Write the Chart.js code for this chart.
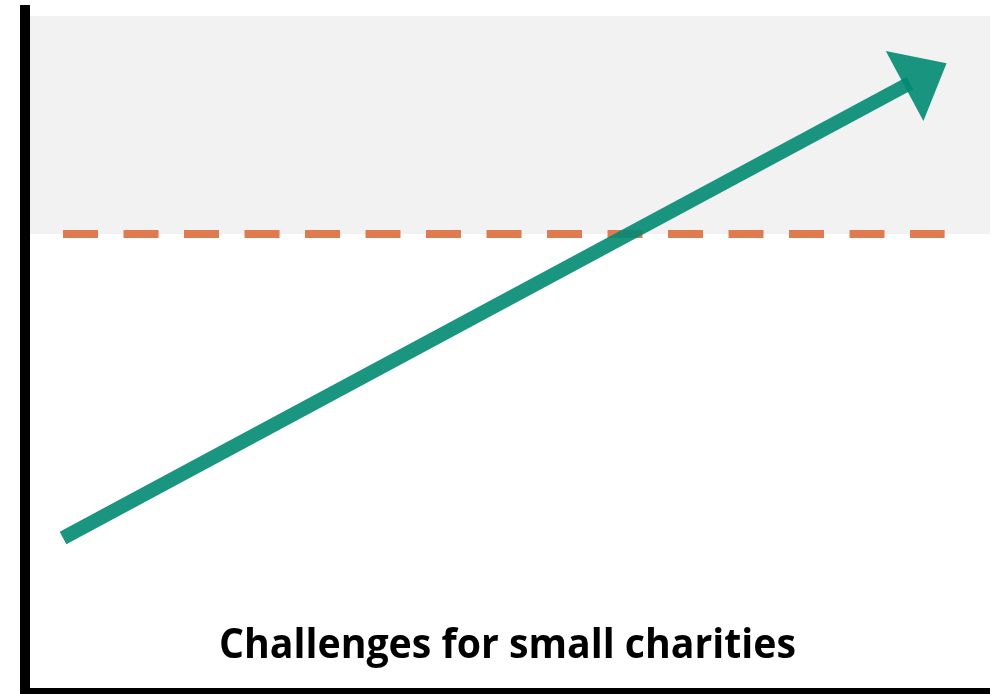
<!DOCTYPE html>
<html>
<head>
<meta charset="utf-8">
<script src="https://cdn.jsdelivr.net/npm/chart.js@4"></script>
<style>
  html, body { margin: 0; padding: 0; background: #fff; overflow: hidden; }
  #wrap { width: 1002px; height: 694px; position: relative; }
</style>
</head>
<body>
<div id="wrap"><canvas id="chart"></canvas></div>
<script>
// values in chart units (0-100 on both axes)
const shadeX = [0.5, 100];
const shadeTop = [98.4, 98.4];
const threshold = 66.6;
const thresholdX = [3.94, 95.3];
const trendX = [3.94, 91.7];
const trendY = [22.3, 88.6];
const headX = [89.2, 95.5, 93.1];
const headY = [93.3, 91.5, 83.1];
const yAxisX = [0, 0];
const yAxisY = [-0.5, 100];
const xAxisX = [-0.5, 100];
const xAxisY = [0, 0];
const caption = ["Challenges for small charities"];
const captionAt = [50, 4.8];

const pts = (xs, ys) => xs.map((x, i) => ({ x: x, y: Array.isArray(ys) ? ys[i] : ys }));

const green = "rgba(0,138,114,0.9)";

const captionPlugin = {
  id: "caption",
  afterDatasetsDraw(chart) {
    const { ctx, scales } = chart;
    const px = scales.x.getPixelForValue(captionAt[0]);
    const py = scales.y.getPixelForValue(captionAt[1]);
    ctx.save();
    ctx.font = "bold 41px 'Open Sans'";
    ctx.fillStyle = "#000";
    ctx.textAlign = "center";
    ctx.textBaseline = "alphabetic";
    const w = ctx.measureText(caption[0]).width;
    ctx.translate(px, py);
    ctx.scale(577 / w, 1);
    ctx.fillText(caption[0], 0, 0);
    ctx.restore();
  }
};

new Chart(document.getElementById("chart"), {
  type: "line",
  data: {
    datasets: [
      {
        data: pts(headX, headY),
        borderWidth: 0,
        backgroundColor: green,
        fill: "shape",
        pointRadius: 0,
        order: 1
      },
      {
        data: pts(trendX, trendY),
        borderColor: green,
        borderWidth: 14,
        borderCapStyle: "butt",
        pointRadius: 0,
        fill: false,
        order: 2
      },
      {
        data: pts(yAxisX, yAxisY),
        borderColor: "#000",
        borderWidth: 10,
        borderCapStyle: "butt",
        pointRadius: 0,
        fill: false,
        clip: false,
        order: 3
      },
      {
        data: pts(xAxisX, xAxisY),
        borderColor: "#000",
        borderWidth: 6,
        borderCapStyle: "butt",
        pointRadius: 0,
        fill: false,
        clip: false,
        order: 3
      },
      {
        data: pts(thresholdX, threshold),
        borderColor: "#e07a4f",
        borderWidth: 8,
        borderDash: [35, 25.5],
        borderCapStyle: "butt",
        pointRadius: 0,
        fill: false,
        order: 4
      },
      {
        data: pts(shadeX, shadeTop),
        borderWidth: 0,
        backgroundColor: "#f2f2f2",
        fill: { value: threshold },
        pointRadius: 0,
        order: 5
      }
    ]
  },
  options: {
    responsive: true,
    maintainAspectRatio: false,
    animation: false,
    devicePixelRatio: 1,
    layout: { padding: { top: 5, left: 25, right: 12, bottom: 3 } },
    scales: {
      x: { type: "linear", min: 0, max: 100, display: false },
      y: { type: "linear", min: 0, max: 100, display: false }
    },
    plugins: {
      legend: { display: false },
      tooltip: { enabled: false }
    }
  },
  plugins: [captionPlugin]
});
</script>
</body>
</html>
